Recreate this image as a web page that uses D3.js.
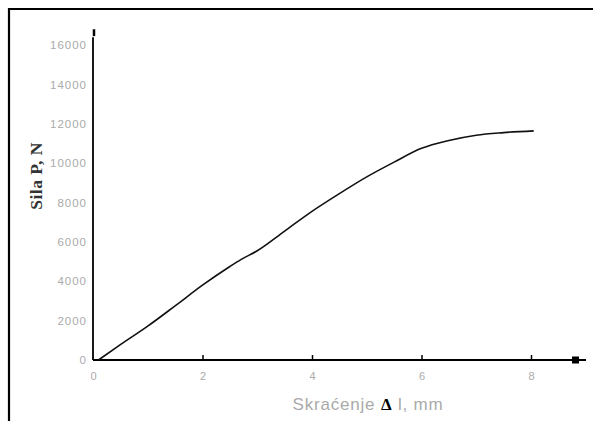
<!DOCTYPE html>
<html><head><meta charset="utf-8">
<script src="https://cdn.jsdelivr.net/npm/d3@7"></script>
<style>body{margin:0;background:#fff}svg{display:block}</style>
</head><body>
<svg id="c" width="593" height="421"></svg>
<script>
const xTicks = [0, 2, 4, 6, 8];
const yTicks = [0, 2000, 4000, 6000, 8000, 10000, 12000, 14000, 16000];
const deltaL = [0.1, 0.5, 1.0, 1.5, 2.0, 2.5, 2.7, 3.0, 3.5, 4.0, 4.5, 5.0, 5.5, 6.0, 6.5, 7.0, 7.5, 8.05];
const force  = [0, 780, 1720, 2750, 3800, 4750, 5100, 5550, 6550, 7550, 8450, 9300, 10050, 10750, 11150, 11420, 11550, 11640];

const svg = d3.select("#c");
const x = d3.scaleLinear().domain([0, 8]).range([93, 531]);
const y = d3.scaleLinear().domain([0, 16000]).range([360, 45]);

// frame
svg.append("path").attr("d", "M9,421 V9 H593").attr("fill", "none").attr("stroke", "#000").attr("stroke-width", 2.2);

// x axis ticks and labels
const gx = svg.append("g").attr("transform", `translate(0,${y(0)})`)
  .call(d3.axisBottom(x).tickValues(xTicks).tickSizeInner(-5).tickSizeOuter(0).tickPadding(12).tickFormat(d3.format("d")));
gx.select(".domain").remove();
gx.selectAll(".tick line").attr("stroke", "#000").attr("stroke-width", 1.5).filter(d => d === 0).remove();
gx.selectAll(".tick text").attr("fill", "#aaa").attr("font-family", "Liberation Sans, Arial, sans-serif").attr("font-size", 11);

// y axis labels
const gy = svg.append("g").attr("transform", `translate(${x(0)},0)`)
  .call(d3.axisLeft(y).tickValues(yTicks).tickSize(0).tickPadding(6).tickFormat(d3.format("d")));
gy.select(".domain").remove();
gy.selectAll(".tick text").attr("fill", "#aaa").attr("font-family", "Liberation Sans, Arial, sans-serif").attr("font-size", 11.5).attr("letter-spacing", 1);

// axis lines
const xEnd = x.invert(586);
svg.append("line").attr("x1", x(0)).attr("x2", x(xEnd)).attr("y1", y(0)).attr("y2", y(0)).attr("stroke", "#000").attr("stroke-width", 1.8);
svg.append("line").attr("x1", x(0)).attr("x2", x(0)).attr("y1", y(0)).attr("y2", y(16400)).attr("stroke", "#000").attr("stroke-width", 1.8);
svg.append("line").attr("x1", x(0) + 1).attr("x2", x(0) + 1).attr("y1", y(16450)).attr("y2", y(16800)).attr("stroke", "#000").attr("stroke-width", 2.5);
svg.append("rect").attr("x", x(xEnd) - 14).attr("y", y(0) - 3.5).attr("width", 7).attr("height", 7).attr("fill", "#000");

// curve
const pts = deltaL.map((d, i) => [d, force[i]]);
svg.append("path").datum(pts)
  .attr("d", d3.line().x(d => x(d[0])).y(d => y(d[1])).curve(d3.curveMonotoneX))
  .attr("fill", "none").attr("stroke", "#111").attr("stroke-width", 1.6);

// titles
const xt = svg.append("text").attr("x", 368).attr("y", 410).attr("text-anchor", "middle")
  .attr("font-family", "Liberation Sans, Arial, sans-serif").attr("font-size", 17).attr("letter-spacing", 0.8).attr("fill", "#aaa");
xt.append("tspan").text("Skraćenje ");
xt.append("tspan").text("Δ").attr("fill", "#000").attr("font-weight", "bold").attr("font-family", "Liberation Serif, serif");
xt.append("tspan").text(" l, mm");

svg.append("text").attr("transform", "translate(42,176) rotate(-90)").attr("text-anchor", "middle")
  .attr("font-family", "Liberation Serif, serif").attr("font-weight", "bold").attr("font-size", 17.5)
  .attr("letter-spacing", 0.5).attr("fill", "#333").text("Sila P, N");
</script>
</body></html>
